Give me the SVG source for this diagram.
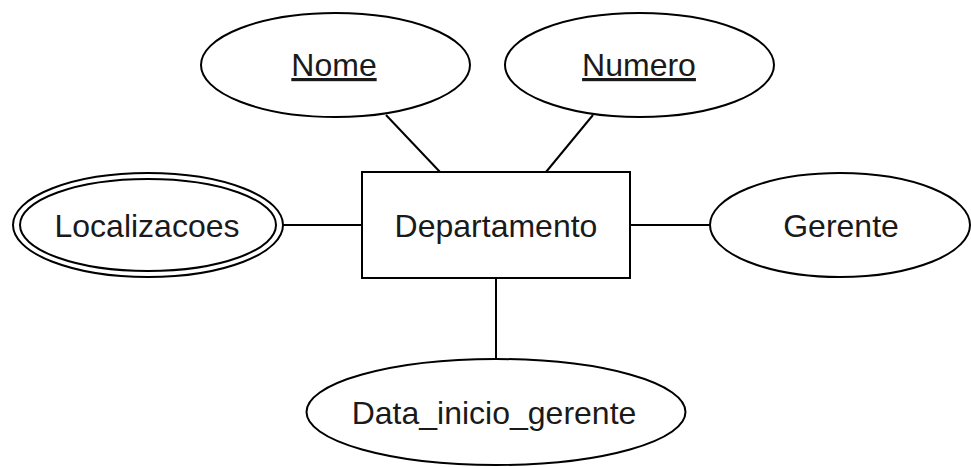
<svg xmlns="http://www.w3.org/2000/svg" width="971" height="467" viewBox="0 0 971 467">
<style>
.shape{fill:#fff;stroke:#000;stroke-width:2}
.conn{stroke:#000;stroke-width:2;fill:none}
.lbl{font-family:"Liberation Sans",Arial,sans-serif;font-size:32px;fill:#1a1a1a;text-anchor:middle}
.key{text-decoration:underline}
</style>
<rect width="971" height="467" fill="#fff"/>
<g id="connectors">
<line class="conn" x1="386" y1="115" x2="440" y2="172"/>
<line class="conn" x1="593" y1="115" x2="546" y2="172"/>
<line class="conn" x1="283" y1="225" x2="362" y2="225"/>
<line class="conn" x1="630" y1="225" x2="710" y2="225"/>
<line class="conn" x1="496" y1="278" x2="496" y2="359"/>
</g>
<g id="departamento">
<rect class="shape" x="362" y="172" width="268" height="106"/>
<text class="lbl" x="496" y="237">Departamento</text>
</g>
<g id="nome">
<ellipse class="shape" cx="335.5" cy="65" rx="134.5" ry="52"/>
<text class="lbl key" x="334" y="76">Nome</text>
</g>
<g id="numero">
<ellipse class="shape" cx="639.5" cy="65" rx="134.5" ry="52"/>
<text class="lbl key" x="639" y="76">Numero</text>
</g>
<g id="localizacoes">
<ellipse class="shape" cx="148" cy="225" rx="135" ry="52"/>
<ellipse class="shape" cx="148" cy="225" rx="128" ry="46"/>
<text class="lbl" x="147" y="237">Localizacoes</text>
</g>
<g id="gerente">
<ellipse class="shape" cx="840" cy="225" rx="130" ry="52"/>
<text class="lbl" x="841" y="237">Gerente</text>
</g>
<g id="data_inicio_gerente">
<ellipse class="shape" cx="496" cy="412" rx="189.5" ry="53"/>
<text class="lbl" x="494" y="424">Data_inicio_gerente</text>
</g>
</svg>
